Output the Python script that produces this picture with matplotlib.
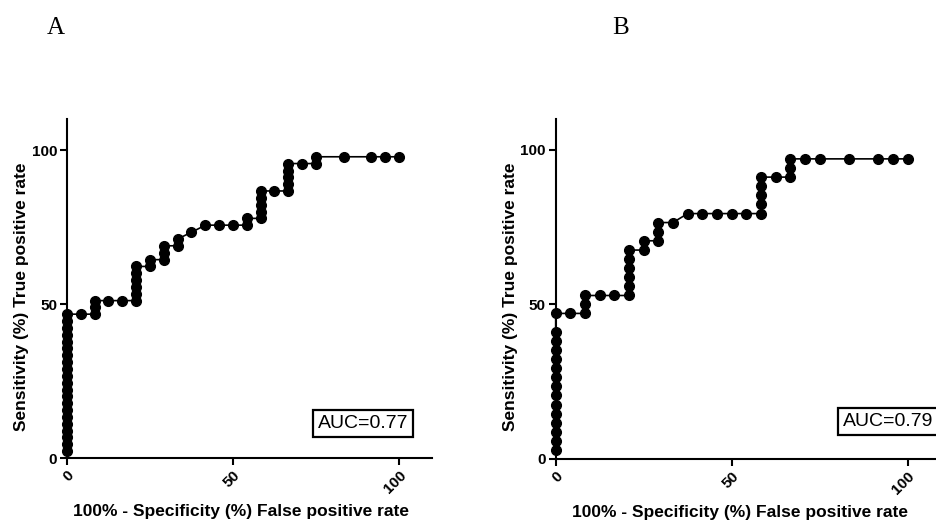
import matplotlib
matplotlib.use("Agg")
import matplotlib.pyplot as plt

# ------------------------
# DATA (in %)
# ------------------------

# panel A
fpr_a = [0.0] * 21 + [4.2, 8.3, 8.3, 8.3, 12.5, 16.7,
         20.8, 20.8, 20.8, 20.8, 20.8, 20.8, 25.0, 25.0,
         29.2, 29.2, 29.2, 33.3, 33.3, 37.5, 41.7, 45.8, 50.0,
         54.2, 54.2, 58.3, 58.3, 58.3, 58.3, 58.3, 62.5,
         66.7, 66.7, 66.7, 66.7, 66.7, 70.8, 75.0, 75.0,
         83.3, 91.7, 95.8, 100.0]
tpr_a = [2.2, 4.4, 6.7, 8.9, 11.1, 13.3, 15.6, 17.8, 20.0, 22.2,
         24.4, 26.7, 28.9, 31.1, 33.3, 35.6, 37.8, 40.0, 42.2, 44.4, 46.7,
         46.7, 46.7, 48.9, 51.1, 51.1, 51.1,
         51.1, 53.3, 55.6, 57.8, 60.0, 62.2, 62.2, 64.4,
         64.4, 66.7, 68.9, 68.9, 71.1, 73.3, 75.6, 75.6, 75.6,
         75.6, 77.8, 77.8, 80.0, 82.2, 84.4, 86.7, 86.7,
         86.7, 88.9, 91.1, 93.3, 95.6, 95.6, 95.6, 97.8,
         97.8, 97.8, 97.8, 97.8]

# panel B
fpr_b = [0.0] * 15 + [4.2, 8.3, 8.3, 8.3, 12.5, 16.7,
         20.8, 20.8, 20.8, 20.8, 20.8, 20.8, 25.0, 25.0,
         29.2, 29.2, 29.2, 33.3, 37.5, 41.7, 45.8, 50.0, 54.2,
         58.3, 58.3, 58.3, 58.3, 58.3, 62.5, 66.7, 66.7, 66.7,
         70.8, 75.0, 83.3, 91.7, 95.8, 100.0]
tpr_b = [2.9, 5.9, 8.8, 11.8, 14.7, 17.6, 20.6, 23.5, 26.5, 29.4,
         32.4, 35.3, 38.2, 41.2, 47.1,
         47.1, 47.1, 50.0, 52.9, 52.9, 52.9,
         52.9, 55.9, 58.8, 61.8, 64.7, 67.6, 67.6, 70.6,
         70.6, 73.5, 76.5, 76.5, 79.4, 79.4, 79.4, 79.4, 79.4,
         79.4, 82.4, 85.3, 88.2, 91.2, 91.2, 91.2, 94.1, 97.1,
         97.1, 97.1, 97.1, 97.1, 97.1, 97.1]

panels = ["A", "B"]
auc_labels = ["AUC=0.77", "AUC=0.79"]
ticks = [0, 50, 100]
xlabel = "100% - Specificity (%) False positive rate"
ylabel = "Sensitivity (%) True positive rate"

# ------------------------
# FIGURE
# ------------------------

W, H = 937, 523
fig = plt.figure(figsize=(W / 100, H / 100), dpi=100)

axA = fig.add_axes([67 / W, 65 / H, 365.2 / W, 338.8 / H])
axB = fig.add_axes([555.7 / W, 64 / H, 387.2 / W, 340 / H])

setup = [
    (axA, fpr_a, tpr_a, auc_labels[0], (75.6, 11.2), -0.125, -0.159),
    (axB, fpr_b, tpr_b, auc_labels[1], (81.6, 12.1), -0.118, -0.156),
]

for ax, fx, ty, auc, auc_pos, ylab_x, xlab_y in setup:
    ax.plot(fx, ty, "-o", color="black", lw=1.2, ms=7,
            clip_on=False, zorder=3)

    ax.set_xlim(0, 110)
    ax.set_ylim(0, 110)
    ax.set_xticks(ticks)
    ax.set_yticks(ticks)
    ax.set_xticklabels([str(t) for t in ticks], rotation=45,
                       ha="right", va="top", rotation_mode="anchor")

    for side in ["top", "right"]:
        ax.spines[side].set_visible(False)
    for side in ["left", "bottom"]:
        ax.spines[side].set_linewidth(1.5)

    ax.tick_params(direction="out", length=5, width=1.5, pad=2,
                   labelsize=11)
    for lab in ax.get_xticklabels() + ax.get_yticklabels():
        lab.set_fontfamily("Liberation Sans")
        lab.set_fontweight("bold")

    ax.text(52.5, xlab_y, xlabel, transform=ax.get_xaxis_transform(),
            ha="center", va="center", fontsize=12.5, fontweight="bold",
            family="Liberation Sans")
    ax.text(ylab_x, 52.5, ylabel, transform=ax.get_yaxis_transform(),
            ha="center", va="center", rotation=90, fontsize=12.5,
            fontweight="bold", family="Liberation Sans")

    ax.text(auc_pos[0], auc_pos[1], auc, ha="left", va="center",
            fontsize=14, family="Liberation Sans",
            bbox=dict(boxstyle="square,pad=0.25", fc="white",
                      ec="black", lw=1.6))

# panel letters
fig.text(56 / W, 1 - 28 / H, panels[0], ha="center", va="center",
         fontsize=18, family="Liberation Serif")
fig.text(621 / W, 1 - 28 / H, panels[1], ha="center", va="center",
         fontsize=18, family="Liberation Serif")

fig.savefig("out.png", dpi=100)
